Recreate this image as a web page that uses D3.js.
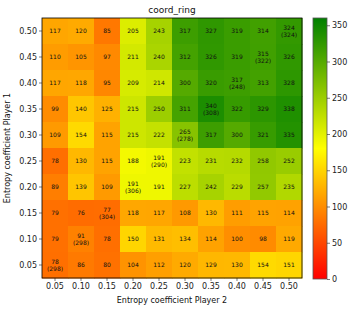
<!DOCTYPE html>
<html><head><meta charset="utf-8">
<script src="https://cdn.jsdelivr.net/npm/d3@7"></script>
<style>body{margin:0;background:#fff}svg{display:block;font-family:"DejaVu Sans",sans-serif}</style>
</head><body><svg id="c" width="354" height="310"></svg>
<script>
const xTicks = ["0.05","0.10","0.15","0.20","0.25","0.30","0.35","0.40","0.45","0.50"];
const yTicks = ["0.50","0.45","0.40","0.35","0.30","0.25","0.20","0.15","0.10","0.05"];
// rows top (0.50) to bottom (0.05)
const values = [
  [117,120,85,205,243,317,327,319,314,324],
  [110,105,97,211,240,312,326,319,315,326],
  [117,118,95,209,214,300,320,317,313,328],
  [99,140,125,215,250,311,340,322,329,338],
  [109,154,115,215,222,265,317,300,321,335],
  [78,130,115,188,191,223,231,232,258,252],
  [89,139,109,191,191,227,242,229,257,235],
  [79,76,77,118,117,108,130,111,115,114],
  [79,91,78,150,131,134,114,100,98,119],
  [78,86,80,104,112,120,129,130,154,151]
];
// secondary values shown in parentheses: [row, col, value]
const secondary = [[0,9,324],[1,8,322],[2,7,248],[3,6,308],[4,5,278],[5,4,290],[6,3,306],[7,2,304],[8,1,298],[9,0,298]];
const cbTicks = [0,50,100,150,200,250,300,350];

const svg = d3.select("#c");
const L=42,R=302,T=18,B=278;
const x = d3.scaleBand().domain(xTicks).range([L,R]);
const y = d3.scaleBand().domain(yTicks).range([T,B]);
const color = d3.scaleLinear().domain([0,180,360]).range(["#ff0000","#ffff00","#008000"]).clamp(true);

const cells=[];
values.forEach((row,i)=>row.forEach((v,j)=>cells.push({i,j,v})));
const sec = new Map(secondary.map(d=>[d[0]+","+d[1],d[2]]));

svg.selectAll("rect.cell").data(cells).enter().append("rect")
  .attr("x",d=>x(xTicks[d.j])).attr("y",d=>y(yTicks[d.i]))
  .attr("width",x.bandwidth()+0.5).attr("height",y.bandwidth()+0.5)
  .attr("fill",d=>color(d.v));

const tg = svg.append("g").attr("font-size",6).attr("fill","#111").attr("text-anchor","middle");
cells.forEach(d=>{
  const cx = x(xTicks[d.j])+x.bandwidth()/2, cy=y(yTicks[d.i])+y.bandwidth()/2;
  const s = sec.get(d.i+","+d.j);
  if(s!==undefined){
    tg.append("text").attr("x",cx).attr("y",cy-1.5).text(d.v);
    tg.append("text").attr("x",cx).attr("y",cy+6).text("("+s+")");
  } else {
    tg.append("text").attr("x",cx).attr("y",cy+2.2).text(d.v);
  }
});

svg.append("rect").attr("x",L).attr("y",T).attr("width",R-L).attr("height",B-T)
  .attr("fill","none").attr("stroke","#000").attr("stroke-width",0.8);

const xa = svg.append("g").attr("transform",`translate(0,${B})`).call(d3.axisBottom(x).tickSize(3).tickPadding(2));
const ya = svg.append("g").attr("transform",`translate(${L},0)`).call(d3.axisLeft(y).tickSize(3).tickPadding(2));
[xa,ya].forEach(a=>{a.select(".domain").remove();a.selectAll("text").attr("font-size",8).attr("fill","#222").attr("font-family","DejaVu Sans");a.selectAll("line").attr("stroke","#222").attr("stroke-width",0.6);});

svg.append("text").attr("x",(L+R)/2).attr("y",13).attr("text-anchor","middle").attr("font-size",9).attr("fill","#111").text("coord_ring");
svg.append("text").attr("x",(L+R)/2).attr("y",303).attr("text-anchor","middle").attr("font-size",8).attr("fill","#111").text("Entropy coefficient Player 2");
svg.append("text").attr("transform",`translate(10,${(T+B)/2}) rotate(-90)`).attr("text-anchor","middle").attr("font-size",8).attr("fill","#111").text("Entropy coefficient Player 1");

// colorbar
const cbL=313,cbW=14,cbT=18,cbB=279;
const cs = d3.scaleLinear().domain([0,360]).range([cbB,cbT]);
const defs = svg.append("defs");
const grad = defs.append("linearGradient").attr("id","g").attr("x1",0).attr("y1",1).attr("x2",0).attr("y2",0);
[0,180,360].forEach(v=>grad.append("stop").attr("offset",v/360).attr("stop-color",color(v)));
svg.append("rect").attr("x",cbL).attr("y",cbT).attr("width",cbW).attr("height",cbB-cbT).attr("fill","url(#g)").attr("stroke","#555").attr("stroke-width",0.8);
const ca = svg.append("g").attr("transform",`translate(${cbL+cbW},0)`).call(d3.axisRight(cs).tickValues(cbTicks).tickSize(3).tickPadding(2));
ca.select(".domain").remove();
ca.selectAll("text").attr("font-size",8).attr("fill","#222").attr("font-family","DejaVu Sans");
ca.selectAll("line").attr("stroke","#222").attr("stroke-width",0.6);
</script></body></html>
